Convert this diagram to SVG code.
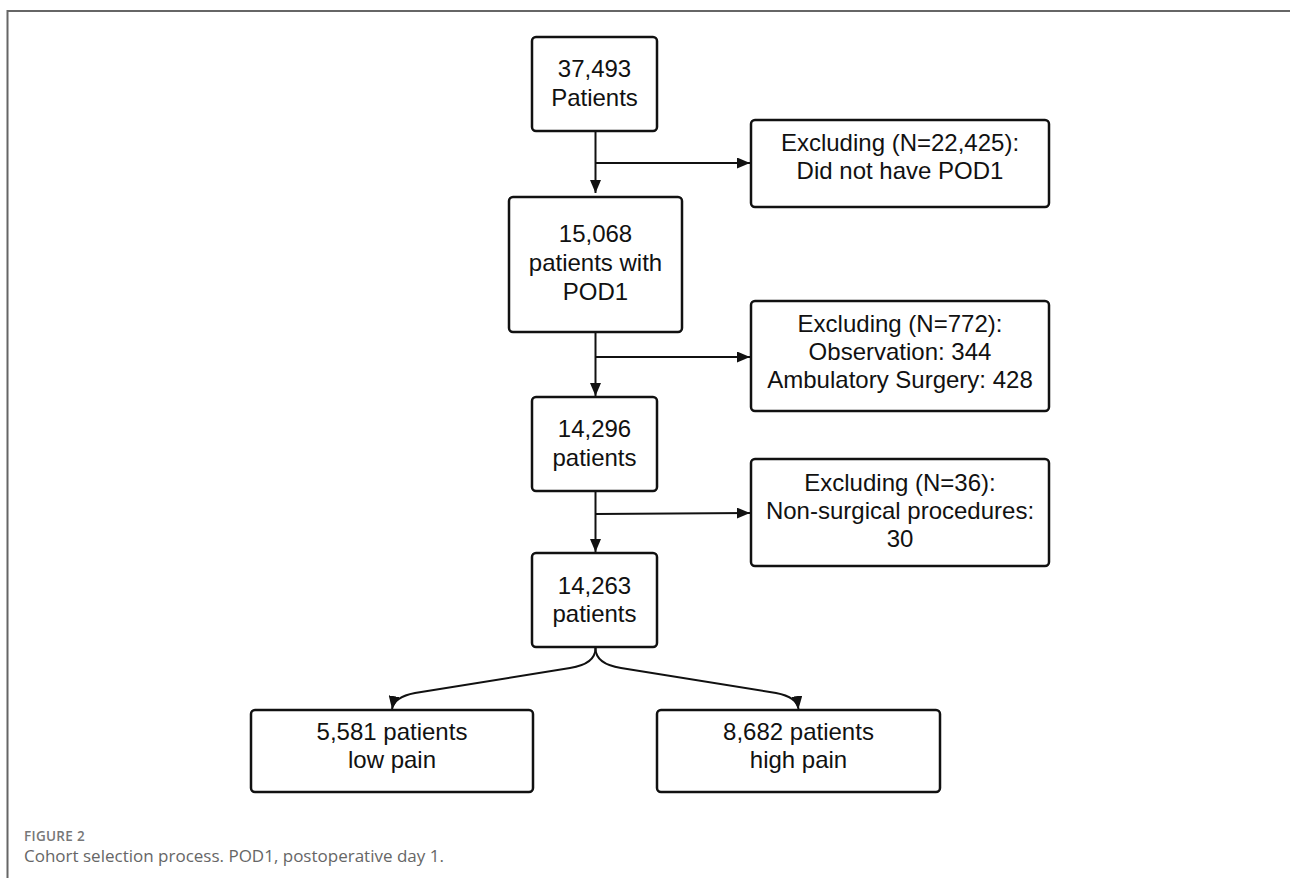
<svg xmlns="http://www.w3.org/2000/svg" width="1290" height="878" viewBox="0 0 1290 878">
<style>
.box{fill:#fff;stroke:#111;stroke-width:2.5}
.t{font-family:"Liberation Sans",Arial,sans-serif;font-size:24px;fill:#111;text-anchor:middle}
.c{fill:none;stroke:#111;stroke-width:2}
.frame{fill:none;stroke:#666;stroke-width:2}
.fig{font-family:"Open Sans","Noto Sans",sans-serif;font-size:13.5px;font-weight:600;fill:#777;letter-spacing:0.3px}
.cap{font-family:"Open Sans","Noto Sans",sans-serif;font-size:17px;fill:#666}
</style>
<defs>
<marker id="ah" viewBox="0 0 13 11" refX="13" refY="5.5" markerWidth="13" markerHeight="11" markerUnits="userSpaceOnUse" orient="auto">
<path d="M0,0 L13,5.5 L0,11 Z" fill="#111"/>
</marker>
</defs>
<rect width="1290" height="878" fill="#fff"/>
<path class="frame" d="M7.5,878 V11 H1290"/>

<g id="connectors">
<path class="c" d="M595.5,132 V193" marker-end="url(#ah)"/>
<path class="c" d="M595.5,163 H750" marker-end="url(#ah)"/>
<path class="c" d="M595.5,332 V396" marker-end="url(#ah)"/>
<path class="c" d="M595.5,357 H750" marker-end="url(#ah)"/>
<path class="c" d="M595.5,491 V552" marker-end="url(#ah)"/>
<path class="c" d="M595.5,514 L750,513" marker-end="url(#ah)"/>
<path class="c" d="M595.5,648 Q595.5,664 570,668 L415,693 Q394,697 392,709" marker-end="url(#ah)"/>
<path class="c" d="M595.5,648 Q595.5,664 621,668 L776,693 Q797,697 798.5,709" marker-end="url(#ah)"/>
</g>

<g id="n1">
<rect class="box" x="532" y="37" width="125" height="94" rx="4"/>
<text class="t" x="594.5" y="76.5">37,493</text>
<text class="t" x="594.5" y="105.5">Patients</text>
</g>
<g id="e1">
<rect class="box" x="751" y="120" width="298" height="87" rx="4"/>
<text class="t" x="900" y="150.5">Excluding (N=22,425):</text>
<text class="t" x="900" y="178.5">Did not have POD1</text>
</g>
<g id="n2">
<rect class="box" x="509" y="197" width="173" height="135" rx="4"/>
<text class="t" x="595.5" y="241.5">15,068</text>
<text class="t" x="595.5" y="270.5">patients with</text>
<text class="t" x="595.5" y="300">POD1</text>
</g>
<g id="e2">
<rect class="box" x="751" y="301" width="298" height="110" rx="4"/>
<text class="t" x="900" y="331.5">Excluding (N=772):</text>
<text class="t" x="900" y="359.5">Observation: 344</text>
<text class="t" x="900" y="388">Ambulatory Surgery: 428</text>
</g>
<g id="n3">
<rect class="box" x="532" y="397" width="125" height="94" rx="4"/>
<text class="t" x="594.5" y="436.5">14,296</text>
<text class="t" x="594.5" y="465.5">patients</text>
</g>
<g id="e3">
<rect class="box" x="751" y="459" width="298" height="107" rx="4"/>
<text class="t" x="900" y="490.5">Excluding (N=36):</text>
<text class="t" x="900" y="518.5">Non-surgical procedures:</text>
<text class="t" x="900" y="547">30</text>
</g>
<g id="n4">
<rect class="box" x="532" y="553" width="125" height="94" rx="4"/>
<text class="t" x="594.5" y="593.5">14,263</text>
<text class="t" x="594.5" y="622">patients</text>
</g>
<g id="low">
<rect class="box" x="251" y="710" width="282" height="82" rx="4"/>
<text class="t" x="392" y="739.5">5,581 patients</text>
<text class="t" x="392" y="768">low pain</text>
</g>
<g id="high">
<rect class="box" x="657" y="710" width="283" height="82" rx="4"/>
<text class="t" x="798.5" y="739.5">8,682 patients</text>
<text class="t" x="798.5" y="768">high pain</text>
</g>

<text class="fig" x="24" y="841">FIGURE 2</text>
<text class="cap" x="24" y="862">Cohort selection process. POD1, postoperative day 1.</text>
</svg>
